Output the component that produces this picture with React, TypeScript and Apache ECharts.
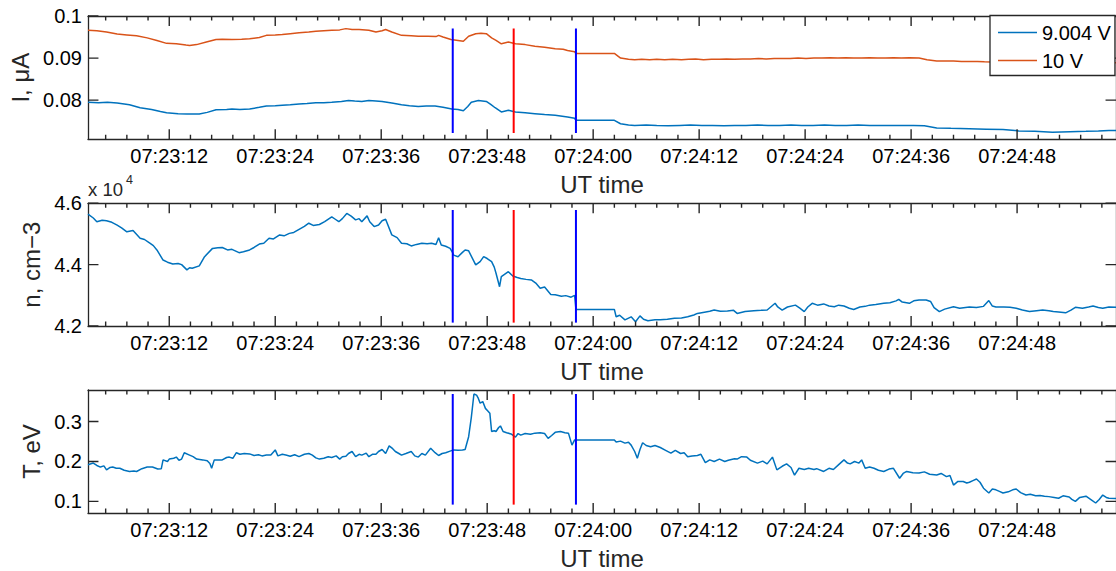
import React, { useEffect, useRef } from "react";
import * as echarts from "echarts";

// time in seconds after 07:23:00
const X_MIN = 2.8;
const X_MAX = 119.2;
const MAJOR_TICKS = [12, 24, 36, 48, 60, 72, 84, 96, 108];
const MINOR_TICKS = [4.8, 7.2, 9.6, 14.4, 16.8, 19.2, 21.6, 26.4, 28.8, 31.2, 33.6, 38.4, 40.8, 43.2, 45.6, 50.4, 52.8, 55.2, 57.6, 62.4, 64.8, 67.2, 69.6, 74.4, 76.8, 79.2, 81.6, 86.4, 88.8, 91.2, 93.6, 98.4, 100.8, 103.2, 105.6, 110.4, 112.8, 115.2, 117.6];

const I_TICKS = [0.08, 0.09, 0.1];
const N_TICKS = [4.2, 4.4, 4.6];
const T_TICKS = [0.1, 0.2, 0.3];

const SERIES_NAMES = ["9.004 V", "10 V"];

// I (µA) at 9.004 V
const iBlue = [
  [2.8, 0.0795], [4.0, 0.0794], [5.0, 0.0795], [6.1, 0.0793], [7.5, 0.0789], [8.7, 0.0782], [10.0, 0.0778], [11.0, 0.0773],
  [11.7, 0.0770], [13.0, 0.0768], [14.0, 0.0767], [15.4, 0.0767], [16.3, 0.0771], [17.3, 0.0777], [18.5, 0.0778], [19.1, 0.0779],
  [20.0, 0.0778], [21.1, 0.0779], [22.2, 0.0783], [23.0, 0.0786], [24.0, 0.0787], [24.8, 0.0788], [25.7, 0.0789], [26.7, 0.0791],
  [27.6, 0.0792], [28.6, 0.0794], [29.5, 0.0794], [30.4, 0.0795], [31.5, 0.0797], [32.3, 0.0799], [33.0, 0.0798], [33.8, 0.0797],
  [34.6, 0.0799], [35.4, 0.0798], [36.1, 0.0797], [37.2, 0.0793], [38.3, 0.0789], [39.2, 0.0787], [40.2, 0.0785], [41.1, 0.0786],
  [42.1, 0.0786], [43.0, 0.0783], [44.0, 0.0779], [44.7, 0.0778], [45.3, 0.0775], [45.8, 0.0785], [46.2, 0.0795], [47.0, 0.0799],
  [47.9, 0.0797], [48.4, 0.0790], [48.9, 0.0782], [49.6, 0.0772], [50.4, 0.0776], [51.2, 0.0772], [52.3, 0.0770], [53.4, 0.0768],
  [54.5, 0.0766], [55.7, 0.0764], [57.1, 0.0760], [57.9, 0.0757], [58.05, 0.0752], [62.4, 0.0752], [63.1, 0.0744], [64.0, 0.0741],
  [64.7, 0.0740], [66.0, 0.0741], [67.2, 0.0740], [68.5, 0.0739], [69.8, 0.0740], [71.0, 0.0741], [72.3, 0.0740], [73.5, 0.0740],
  [74.8, 0.0739], [76.0, 0.0740], [77.3, 0.0740], [78.6, 0.0741], [79.8, 0.0740], [81.1, 0.0740], [82.4, 0.0741], [83.6, 0.0740],
  [84.9, 0.0740], [86.2, 0.0741], [87.4, 0.0740], [88.7, 0.0740], [90.0, 0.0741], [91.3, 0.0740], [92.5, 0.0740], [93.8, 0.0740],
  [95.0, 0.0740], [96.3, 0.0740], [97.5, 0.0739], [98.9, 0.0734], [100.5, 0.0733], [102.6, 0.0732], [104.5, 0.0731], [106.4, 0.0730],
  [108.2, 0.0727], [110.0, 0.0726], [112.0, 0.0724], [114.0, 0.0725], [115.8, 0.0726], [117.2, 0.0727], [118.4, 0.0728], [119.2, 0.0728],
];

// I (µA) at 10 V
const iOrange = [
  [2.8, 0.0966], [3.8, 0.0965], [4.9, 0.0962], [6.1, 0.0957], [7.2, 0.0955], [8.3, 0.0953], [9.5, 0.0948], [10.6, 0.0942],
  [11.7, 0.0935], [12.8, 0.0934], [13.9, 0.0931], [14.3, 0.0930], [15.1, 0.0932], [16.2, 0.0938], [17.3, 0.0944], [18.0, 0.0945],
  [19.1, 0.0944], [20.2, 0.0945], [21.1, 0.0946], [22.2, 0.0949], [23.0, 0.0954], [24.0, 0.0955], [24.8, 0.0956], [25.7, 0.0958],
  [26.7, 0.0960], [27.8, 0.0962], [28.6, 0.0964], [29.5, 0.0965], [30.4, 0.0966], [31.3, 0.0967], [32.0, 0.0970], [32.7, 0.0968],
  [33.5, 0.0968], [34.6, 0.0966], [35.4, 0.0962], [36.1, 0.0965], [36.5, 0.0968], [37.2, 0.0962], [38.3, 0.0954], [39.4, 0.0953],
  [40.2, 0.0952], [41.3, 0.0952], [42.2, 0.0951], [42.5, 0.0954], [43.0, 0.0950], [43.9, 0.0944], [44.7, 0.0942], [45.3, 0.0940],
  [45.9, 0.0952], [46.7, 0.0958], [47.3, 0.0959], [47.9, 0.0958], [48.5, 0.0948], [49.0, 0.0942], [49.6, 0.0934], [50.4, 0.0938],
  [51.2, 0.0934], [52.3, 0.0932], [53.4, 0.0928], [54.5, 0.0926], [55.7, 0.0922], [56.6, 0.0921], [57.1, 0.0918], [57.9, 0.0915],
  [58.05, 0.0911], [62.4, 0.0911], [63.1, 0.0900], [64.0, 0.0897], [64.7, 0.0896], [65.5, 0.0897], [66.4, 0.0896], [67.2, 0.0897],
  [68.1, 0.0896], [69.0, 0.0897], [70.0, 0.0896], [70.8, 0.0897], [71.6, 0.0898], [72.5, 0.0896], [73.4, 0.0897], [74.3, 0.0897],
  [75.1, 0.0898], [76.0, 0.0897], [76.9, 0.0898], [77.8, 0.0898], [78.7, 0.0899], [79.6, 0.0898], [80.5, 0.0899], [81.4, 0.0899],
  [82.3, 0.0899], [83.2, 0.0900], [84.1, 0.0899], [85.0, 0.0900], [85.9, 0.0900], [86.8, 0.0901], [87.7, 0.0900], [88.6, 0.0901],
  [89.5, 0.0900], [90.4, 0.0900], [91.3, 0.0901], [92.2, 0.0900], [93.1, 0.0900], [94.0, 0.0901], [94.9, 0.0900], [95.8, 0.0901],
  [96.9, 0.0900], [97.8, 0.0896], [98.9, 0.0893], [99.8, 0.0893], [100.8, 0.0893], [101.7, 0.0892], [102.6, 0.0892], [103.5, 0.0892],
  [104.3, 0.0891], [106.0, 0.0890], [110.0, 0.0890], [114.0, 0.0889], [119.2, 0.0889],
];

// n (x 10^4 cm^-3)
const nData = [
  [2.8, 4.565], [3.4, 4.552], [3.8, 4.540], [4.4, 4.545], [4.9, 4.543], [5.5, 4.538], [6.1, 4.529], [6.6, 4.520], [7.2, 4.507],
  [7.9, 4.511], [8.7, 4.486], [9.2, 4.482], [9.8, 4.470], [10.2, 4.462], [10.6, 4.448], [11.3, 4.415], [11.8, 4.408], [12.4, 4.402],
  [13.0, 4.404], [13.4, 4.400], [14.0, 4.383], [14.3, 4.390], [14.6, 4.388], [15.4, 4.396], [16.0, 4.426], [16.9, 4.453], [17.5, 4.455],
  [18.0, 4.456], [18.6, 4.448], [19.1, 4.450], [19.9, 4.439], [20.4, 4.442], [21.1, 4.448], [21.6, 4.456], [22.2, 4.467], [22.7, 4.470],
  [23.3, 4.486], [23.8, 4.484], [24.5, 4.497], [25.0, 4.494], [25.6, 4.502], [26.1, 4.505], [26.7, 4.515], [27.3, 4.525], [27.8, 4.535],
  [28.3, 4.528], [29.0, 4.531], [29.6, 4.540], [30.4, 4.556], [30.8, 4.548], [31.2, 4.540], [31.6, 4.550], [32.1, 4.567], [32.6, 4.558],
  [33.1, 4.546], [33.5, 4.550], [33.8, 4.540], [34.4, 4.559], [34.7, 4.540], [35.2, 4.524], [35.7, 4.529], [36.1, 4.543], [36.5, 4.548],
  [37.2, 4.497], [37.8, 4.488], [38.3, 4.470], [38.9, 4.468], [39.4, 4.461], [40.0, 4.466], [40.6, 4.470], [41.2, 4.468], [41.7, 4.470],
  [42.2, 4.466], [42.5, 4.488], [42.8, 4.464], [43.3, 4.460], [43.8, 4.453], [44.1, 4.438], [44.2, 4.431], [44.7, 4.426], [45.2, 4.440],
  [45.5, 4.448], [45.9, 4.445], [46.7, 4.399], [47.2, 4.410], [47.6, 4.426], [48.0, 4.420], [48.5, 4.410], [48.8, 4.392], [49.0, 4.372],
  [49.4, 4.328], [49.6, 4.361], [50.4, 4.377], [50.9, 4.363], [51.4, 4.358], [51.8, 4.355], [52.4, 4.352], [53.0, 4.350], [53.5, 4.340],
  [54.0, 4.323], [54.5, 4.327], [55.2, 4.303], [55.7, 4.302], [56.4, 4.297], [56.9, 4.299], [57.5, 4.294], [57.9, 4.300], [58.05, 4.254],
  [62.4, 4.254], [62.6, 4.230], [63.0, 4.235], [63.6, 4.220], [64.3, 4.230], [64.8, 4.214], [65.3, 4.233], [65.7, 4.222], [66.2, 4.217],
  [67.0, 4.220], [67.6, 4.220], [68.4, 4.222], [69.2, 4.225], [70.0, 4.226], [70.7, 4.230], [71.4, 4.236], [71.8, 4.241], [72.6, 4.245],
  [73.2, 4.248], [73.7, 4.252], [74.4, 4.248], [75.2, 4.249], [75.9, 4.251], [76.3, 4.241], [77.2, 4.247], [78.2, 4.250], [79.0, 4.251],
  [79.7, 4.252], [80.6, 4.274], [80.9, 4.262], [81.4, 4.252], [82.0, 4.262], [82.9, 4.268], [83.4, 4.258], [83.9, 4.247], [84.3, 4.262],
  [84.8, 4.274], [85.4, 4.268], [86.1, 4.272], [86.7, 4.265], [87.3, 4.263], [87.8, 4.268], [88.4, 4.265], [89.0, 4.258], [89.5, 4.254],
  [90.2, 4.262], [90.8, 4.264], [91.3, 4.268], [92.0, 4.270], [92.9, 4.274], [93.6, 4.276], [94.3, 4.282], [94.6, 4.287], [95.0, 4.278],
  [95.8, 4.274], [96.3, 4.282], [96.9, 4.285], [97.7, 4.285], [98.2, 4.280], [98.6, 4.260], [99.2, 4.247], [99.8, 4.255], [100.8, 4.263],
  [101.5, 4.258], [102.6, 4.262], [103.4, 4.260], [104.2, 4.264], [104.8, 4.283], [105.2, 4.265], [105.6, 4.262], [106.5, 4.262],
  [107.2, 4.261], [107.9, 4.258], [108.6, 4.252], [109.4, 4.247], [110.2, 4.250], [110.9, 4.252], [111.6, 4.250], [112.1, 4.247],
  [112.7, 4.246], [113.5, 4.243], [114.1, 4.252], [114.6, 4.261], [115.4, 4.258], [116.1, 4.262], [116.6, 4.265], [117.2, 4.260],
  [117.7, 4.258], [118.4, 4.262], [119.2, 4.261],
];

// T (eV)
const tData = [
  [2.8, 0.192], [3.4, 0.196], [3.8, 0.190], [4.2, 0.186], [4.6, 0.189], [4.9, 0.179], [5.3, 0.185], [5.6, 0.186], [6.0, 0.183],
  [6.4, 0.183], [6.9, 0.178], [7.5, 0.175], [8.0, 0.176], [8.3, 0.175], [8.9, 0.182], [9.5, 0.186], [10.1, 0.186], [10.7, 0.181],
  [11.1, 0.182], [11.3, 0.204], [11.8, 0.200], [12.0, 0.206], [12.5, 0.208], [12.8, 0.211], [13.1, 0.203], [13.4, 0.206], [13.7, 0.222],
  [14.3, 0.216], [14.7, 0.212], [15.1, 0.206], [15.8, 0.204], [16.3, 0.202], [16.6, 0.195], [16.8, 0.183], [17.1, 0.204], [17.6, 0.204],
  [18.0, 0.204], [18.5, 0.210], [18.8, 0.211], [19.2, 0.208], [19.6, 0.222], [20.0, 0.218], [20.5, 0.220], [21.1, 0.219], [21.6, 0.215],
  [22.1, 0.217], [22.5, 0.214], [23.0, 0.216], [23.5, 0.216], [24.0, 0.229], [24.3, 0.214], [24.8, 0.218], [25.2, 0.216], [25.7, 0.213],
  [26.2, 0.217], [26.7, 0.212], [27.3, 0.218], [27.8, 0.220], [28.2, 0.216], [28.6, 0.209], [29.0, 0.206], [29.5, 0.208], [30.0, 0.212],
  [30.4, 0.210], [30.9, 0.214], [31.3, 0.206], [31.6, 0.212], [32.0, 0.213], [32.3, 0.220], [32.7, 0.225], [33.1, 0.212], [33.5, 0.218],
  [33.8, 0.216], [34.3, 0.221], [34.6, 0.212], [35.0, 0.218], [35.4, 0.218], [35.7, 0.225], [36.1, 0.230], [36.5, 0.220], [36.9, 0.239],
  [37.3, 0.232], [37.6, 0.225], [38.0, 0.220], [38.3, 0.216], [38.8, 0.220], [39.4, 0.225], [39.8, 0.214], [40.2, 0.211], [40.6, 0.220],
  [41.0, 0.216], [41.6, 0.233], [42.1, 0.222], [42.5, 0.215], [42.9, 0.220], [43.3, 0.222], [43.8, 0.226], [44.2, 0.229], [44.7, 0.228],
  [45.2, 0.229], [45.5, 0.230], [45.9, 0.262], [46.2, 0.310], [46.5, 0.369], [46.8, 0.366], [47.0, 0.358], [47.2, 0.346], [47.5, 0.350],
  [47.8, 0.333], [48.1, 0.326], [48.3, 0.321], [48.5, 0.275], [48.8, 0.277], [49.0, 0.275], [49.3, 0.285], [49.5, 0.289], [49.8, 0.275],
  [50.2, 0.272], [50.7, 0.269], [51.2, 0.261], [51.5, 0.270], [51.8, 0.266], [52.3, 0.270], [52.9, 0.268], [53.4, 0.271], [54.0, 0.272],
  [54.5, 0.270], [54.9, 0.258], [55.3, 0.265], [55.7, 0.273], [56.3, 0.275], [56.8, 0.272], [57.2, 0.271], [57.6, 0.241], [57.9, 0.254],
  [58.05, 0.254], [62.4, 0.254], [62.6, 0.249], [63.1, 0.251], [63.6, 0.246], [64.0, 0.248], [64.3, 0.241], [64.7, 0.225], [65.0, 0.208],
  [65.3, 0.230], [65.6, 0.247], [66.0, 0.240], [66.5, 0.237], [67.0, 0.240], [67.6, 0.235], [68.2, 0.228], [68.8, 0.221], [69.3, 0.228],
  [69.9, 0.220], [70.3, 0.222], [70.7, 0.212], [71.2, 0.214], [71.8, 0.215], [72.2, 0.218], [72.7, 0.197], [73.2, 0.204], [73.7, 0.200],
  [74.3, 0.206], [74.9, 0.200], [75.3, 0.203], [76.0, 0.207], [76.3, 0.206], [76.8, 0.212], [77.4, 0.211], [77.8, 0.203], [78.6, 0.196],
  [79.2, 0.201], [79.7, 0.194], [80.3, 0.211], [80.8, 0.179], [81.4, 0.188], [81.9, 0.194], [82.4, 0.185], [82.8, 0.166], [83.3, 0.183],
  [83.9, 0.180], [84.4, 0.183], [85.0, 0.180], [85.3, 0.182], [86.1, 0.175], [86.7, 0.183], [87.2, 0.180], [87.8, 0.192], [88.4, 0.204],
  [88.8, 0.196], [89.1, 0.194], [89.6, 0.200], [90.1, 0.196], [90.4, 0.204], [90.8, 0.183], [91.3, 0.186], [91.8, 0.183], [92.3, 0.178],
  [92.9, 0.175], [93.5, 0.181], [94.0, 0.183], [94.7, 0.158], [95.1, 0.170], [95.5, 0.175], [96.2, 0.172], [96.9, 0.171], [97.5, 0.174],
  [98.1, 0.168], [98.9, 0.166], [99.4, 0.170], [100.0, 0.162], [100.4, 0.165], [100.8, 0.141], [101.3, 0.150], [101.9, 0.150],
  [102.3, 0.146], [102.6, 0.148], [103.0, 0.152], [103.4, 0.156], [103.8, 0.148], [104.2, 0.133], [104.8, 0.121], [105.2, 0.131],
  [105.6, 0.129], [106.0, 0.125], [106.4, 0.121], [107.0, 0.124], [107.5, 0.129], [107.9, 0.131], [108.4, 0.122], [109.0, 0.116],
  [109.5, 0.118], [110.1, 0.114], [110.6, 0.115], [111.1, 0.113], [111.6, 0.112], [112.2, 0.110], [112.7, 0.108], [113.2, 0.114],
  [113.9, 0.111], [114.2, 0.105], [114.6, 0.100], [115.1, 0.110], [115.8, 0.113], [116.4, 0.104], [116.9, 0.096], [117.3, 0.105],
  [117.7, 0.116], [118.1, 0.110], [118.4, 0.108], [119.2, 0.107],
];

// event markers: time (s after 07:23:00) and colour
const markerTimes = [44.1, 51.0, 58.05];
const markerColors = ["#0000FF", "#FF0000", "#0000FF"];
// vertical extent of markers in each panel
const markerRangeI = [0.0722, 0.097];
const markerRangeN = [4.211, 4.578];
const markerRangeT = [0.092, 0.369];

const FONT = "Liberation Sans, Arial, Helvetica, sans-serif";
const AX = "#262626";

function fmtTime(v: number) {
  const s = Math.round(v);
  const m = 23 + Math.floor(s / 60);
  const sec = s % 60;
  return "07:" + String(m).padStart(2, "0") + ":" + String(sec).padStart(2, "0");
}

export default function App() {
  const ref = useRef<HTMLDivElement>(null);
  useEffect(() => {
    if (!ref.current) return;
    const chart = echarts.init(ref.current, undefined, { renderer: "svg" });

    const grids = [
      { left: 88, top: 16, width: 1032, height: 123.3 },
      { left: 88, top: 203.3, width: 1032, height: 122.7 },
      { left: 88, top: 390, width: 1032, height: 123.3 },
    ];
    const yCfg = [
      { min: 0.0707, max: 0.1, ticks: I_TICKS, name: "I, μA", gap: 54, fmt: (v: number) => String(+v.toFixed(2)) },
      { min: 4.2, max: 4.6, ticks: N_TICKS, name: "n, cm\u22123", gap: 39, fmt: (v: number) => v.toFixed(1) },
      { min: 0.071, max: 0.379, ticks: T_TICKS, name: "T, eV", gap: 42, fmt: (v: number) => v.toFixed(1) },
    ];

    const xAxes: any[] = [];
    const yAxes: any[] = [];
    const tickSeries: any[] = [];

    const lineSeries = (name: string, data: any[], g: number, color: string, width = 1.4) => ({
      name,
      type: "line",
      xAxisIndex: g * 2,
      yAxisIndex: g * 2,
      data,
      symbol: "none",
      showSymbol: false,
      connectNulls: false,
      lineStyle: { color, width },
      itemStyle: { color },
      emphasis: { disabled: true },
      silent: true,
    });

    grids.forEach((gr, g) => {
      const base = { type: "value", gridIndex: g, min: X_MIN, max: X_MAX, splitLine: { show: false }, axisTick: { show: false } };
      xAxes.push({
        ...base,
        position: "bottom",
        axisLine: { show: true, lineStyle: { color: AX, width: 1.3 } },
        axisLabel: {
          show: true, customValues: MAJOR_TICKS, formatter: fmtTime, margin: 7,
          fontSize: 20, fontFamily: FONT, color: "#000",
        },
        name: "UT time", nameLocation: "middle", nameGap: 33,
        nameTextStyle: { fontSize: 24, fontFamily: FONT, color: "#262626" },
      });
      xAxes.push({
        ...base,
        position: "top",
        axisLine: { show: true, lineStyle: { color: AX, width: 1.3 } },
        axisLabel: { show: false },
      });
      const yc = yCfg[g];
      const ybase = { type: "value", gridIndex: g, min: yc.min, max: yc.max, splitLine: { show: false }, axisTick: { show: false } };
      yAxes.push({
        ...ybase,
        position: "left",
        axisLine: { show: true, lineStyle: { color: AX, width: 1.3 } },
        axisLabel: {
          show: true, customValues: yc.ticks, formatter: yc.fmt, margin: 6,
          fontSize: 20, fontFamily: FONT, color: "#000",
        },
        name: yc.name, nameLocation: "middle", nameGap: yc.gap, nameRotate: 90,
        nameTextStyle: { fontSize: 24, fontFamily: FONT, color: "#262626" },
      });
      yAxes.push({
        ...ybase,
        position: "right",
        axisLine: { show: true, lineStyle: { color: AX, width: 1.3 } },
        axisLabel: { show: false },
      });

      // inward tick marks (bottom/top, left/right) as broken line segments through the axis scales
      const yPerPx = (yc.max - yc.min) / gr.height;
      const xPerPx = (X_MAX - X_MIN) / gr.width;
      const xTicks: any[] = [];
      const addX = (ticks: number[], lenPx: number) => {
        const d = lenPx * yPerPx;
        ticks.forEach((t) => {
          xTicks.push([t, yc.min], [t, yc.min + d], [t, null]);
          xTicks.push([t, yc.max], [t, yc.max - d], [t, null]);
        });
      };
      addX(MAJOR_TICKS, 10);
      addX(MINOR_TICKS, 4.5);
      const yTicks: any[] = [];
      const dx = 10.5 * xPerPx;
      yc.ticks.forEach((v) => {
        yTicks.push([X_MIN, v], [X_MIN + dx, v], [null, v]);
        yTicks.push([X_MAX, v], [X_MAX - dx, v], [null, v]);
      });
      tickSeries.push({ ...lineSeries("xticks" + g, xTicks, g, AX, 1.4), z: 5, clip: false });
      tickSeries.push({ ...lineSeries("yticks" + g, yTicks, g, AX, 1.4), z: 5, clip: false });
    });

    const ranges = [markerRangeI, markerRangeN, markerRangeT];
    const markers: any[] = [];
    ranges.forEach((r, g) => {
      markerTimes.forEach((t, k) => {
        markers.push({
          ...lineSeries("marker" + g + k, [[t, r[0]], [t, r[1]]], g, markerColors[k], 2),
          z: 3,
        });
      });
    });

    chart.setOption({
      animation: false,
      backgroundColor: "#fff",
      grid: grids,
      xAxis: xAxes,
      yAxis: yAxes,
      legend: {
        data: SERIES_NAMES,
        orient: "vertical",
        left: 990,
        top: 15.5,
        padding: [7, 4, 5, 8],
        icon: "rect",
        itemWidth: 39,
        itemHeight: 1.6,
        itemGap: 8,
        backgroundColor: "#fff",
        borderColor: AX,
        borderWidth: 1.3,
        borderRadius: 0,
        textStyle: { fontSize: 20, fontFamily: FONT, color: "#000" },
        z: 10,
      },
      graphic: [
        { type: "text", left: 88, top: 180, style: { text: "x 10", fontSize: 18.5, fontFamily: FONT, fill: "#262626" } },
        { type: "text", left: 126, top: 173, style: { text: "4", fontSize: 12.5, fontFamily: FONT, fill: "#262626" } },
      ],
      series: [
        lineSeries(SERIES_NAMES[0], iBlue, 0, "#0072BD", 1.5),
        lineSeries(SERIES_NAMES[1], iOrange, 0, "#D95319", 1.5),
        lineSeries("n", nData, 1, "#0072BD", 1.5),
        lineSeries("T", tData, 2, "#0072BD", 1.5),
        ...markers,
        ...tickSeries,
      ],
    });
    return () => chart.dispose();
  }, []);
  return <div ref={ref} style={{ position: "absolute", left: 0, top: 0, width: 1116, height: 571 }} />;
}
